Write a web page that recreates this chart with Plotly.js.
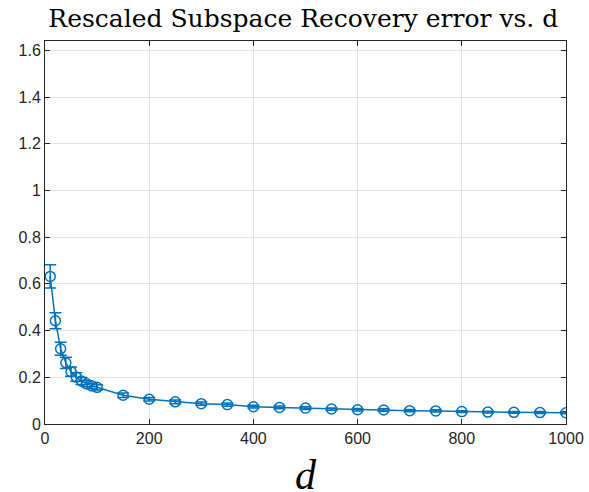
<!DOCTYPE html>
<html>
<head>
<meta charset="utf-8">
<script src="https://cdn.plot.ly/plotly-3.0.1.min.js"></script>
<style>html,body{margin:0;padding:0;background:#fff;}#chart{width:589px;height:492px;}</style>
</head>
<body>
<div id="chart"></div>
<script>
const dValues = [10, 20, 30, 40, 50, 60, 70, 80, 90, 100, 150, 200, 250, 300, 350, 400, 450, 500, 550, 600, 650, 700, 750, 800, 850, 900, 950, 1000];
const errorMean = [0.632, 0.442, 0.322, 0.262, 0.224, 0.201, 0.184, 0.172, 0.163, 0.157, 0.123, 0.106, 0.095, 0.087, 0.083, 0.074, 0.071, 0.068, 0.064, 0.061, 0.060, 0.057, 0.056, 0.053, 0.051, 0.050, 0.049, 0.048];
const errorStd = [0.050, 0.034, 0.028, 0.024, 0.020, 0.018, 0.015, 0.013, 0.012, 0.011, 0.010, 0.008, 0.008, 0.007, 0.007, 0.006, 0.006, 0.006, 0.005, 0.005, 0.005, 0.005, 0.005, 0.004, 0.004, 0.004, 0.004, 0.004];
const xTicks = [0, 200, 400, 600, 800, 1000];
const yTicks = [0, 0.2, 0.4, 0.6, 0.8, 1, 1.2, 1.4, 1.6];
const yTickLabels = ['0', '0.2', '0.4', '0.6', '0.8', '1', '1.2', '1.4', '1.6'];
const xAxisLabel = 'd';

const blue = '#0072BD';
const axisColor = '#262626';

const trace = {
  x: dValues,
  y: errorMean,
  type: 'scatter',
  mode: 'lines+markers',
  line: {color: blue, width: 1.5},
  marker: {symbol: 'circle-open', size: 10, color: blue, line: {width: 1.5, color: blue}},
  error_y: {type: 'data', array: errorStd, visible: true, color: blue, thickness: 1.5, width: 6},
  showlegend: false
};

const layout = {
  width: 589, height: 492,
  margin: {l: 45, r: 23, t: 41, b: 68},
  paper_bgcolor: '#fff', plot_bgcolor: '#fff',
  title: {text: 'Rescaled Subspace Recovery error vs. d', font: {family: 'DejaVu Serif, serif', size: 25, color: '#000'}, x: 0.515, xanchor: 'center', y: 0.963, yanchor: 'middle'},
  xaxis: {
    range: [0, 1000], tickvals: xTicks, ticktext: xTicks.map(String),
    showgrid: true, gridcolor: '#e3e3e3', gridwidth: 1,
    showline: true, linecolor: axisColor, linewidth: 1, mirror: 'ticks',
    ticks: 'inside', ticklen: 5, tickcolor: axisColor,
    zeroline: false,
    tickfont: {family: 'Liberation Sans, Arial, sans-serif', size: 16, color: axisColor}
  },
  yaxis: {
    range: [0, 1.64], tickvals: yTicks, ticktext: yTickLabels,
    showgrid: true, gridcolor: '#e3e3e3', gridwidth: 1,
    showline: true, linecolor: axisColor, linewidth: 1, mirror: 'ticks',
    ticks: 'inside', ticklen: 5, tickcolor: axisColor,
    zeroline: false,
    tickfont: {family: 'Liberation Sans, Arial, sans-serif', size: 16, color: axisColor}
  },
  annotations: [{
    text: '<i>' + xAxisLabel + '</i>', xref: 'paper', yref: 'paper',
    x: 0.501, y: -0.132, xanchor: 'center', yanchor: 'middle', showarrow: false,
    font: {family: 'Liberation Serif, serif', size: 42, color: '#000'}
  }]
};

Plotly.newPlot('chart', [trace], layout, {displayModeBar: false, staticPlot: true});
</script>
</body>
</html>
